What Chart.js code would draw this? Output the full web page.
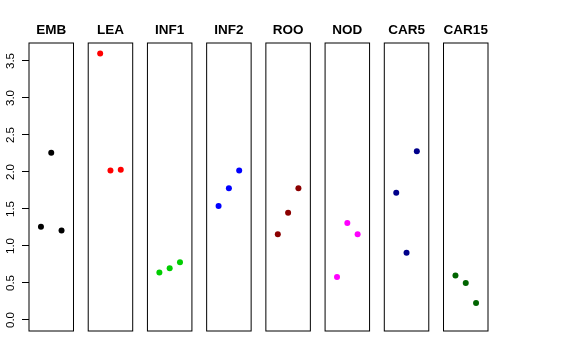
<!DOCTYPE html>
<html>
<head>
<meta charset="utf-8">
<script src="https://cdn.jsdelivr.net/npm/chart.js@4/dist/chart.umd.min.js"></script>
<style>
  body { margin: 0; background: #fff; }
  #wrap { width: 576px; height: 360px; }
</style>
</head>
<body>
<div id="wrap"><canvas id="stripChart" width="576" height="360"></canvas></div>
<script>
// panel names and colours
const panels = ['EMB', 'LEA', 'INF1', 'INF2', 'ROO', 'NOD', 'CAR5', 'CAR15'];
const colors = ['#000000', '#FF0000', '#00CD00', '#0000FF', '#8B0000', '#FF00FF', '#00008B', '#006400'];

// three replicate values per panel
const emb   = [1.26, 2.26, 1.21];
const lea   = [3.60, 2.02, 2.03];
const inf1  = [0.64, 0.70, 0.78];
const inf2  = [1.54, 1.78, 2.02];
const roo   = [1.16, 1.45, 1.78];
const nod   = [0.58, 1.31, 1.16];
const car5  = [1.72, 0.91, 2.28];
const car15 = [0.60, 0.50, 0.23];
const values = [emb, lea, inf1, inf2, roo, nod, car5, car15];

const pitch = 5.75;   // x units between panels
const pad = 0.16;     // each panel spans 0..4 plus padding

const datasets = values.map((vals, i) => ({
  label: panels[i],
  data: vals.map((v, k) => ({ x: i * pitch + k + 1, y: v })),
  backgroundColor: colors[i],
  borderWidth: 0,
  pointRadius: 3
}));

const panelPlugin = {
  id: 'panels',
  afterDraw(chart) {
    const { ctx, chartArea, scales } = chart;
    const x = scales.x, y = scales.y;
    ctx.save();
    ctx.strokeStyle = '#000';
    ctx.lineWidth = 1;
    ctx.fillStyle = '#000';
    ctx.font = 'bold 13.5px "Liberation Sans", Arial, sans-serif';
    ctx.textAlign = 'center';
    ctx.textBaseline = 'alphabetic';
    panels.forEach((name, i) => {
      const l = x.getPixelForValue(i * pitch - pad);
      const r = x.getPixelForValue(i * pitch + 4 + pad);
      ctx.strokeRect(l, chartArea.top, r - l, chartArea.bottom - chartArea.top);
      ctx.fillText(name, (l + r) / 2, 34);
    });
    // rotated y tick labels
    ctx.font = '11.5px "Liberation Sans", Arial, sans-serif';
    ctx.textBaseline = 'middle';
    y.ticks.forEach(t => {
      const py = y.getPixelForValue(t.value);
      ctx.save();
      ctx.translate(10.5, py);
      ctx.rotate(-Math.PI / 2);
      ctx.fillText(t.value.toFixed(1), 0, 0);
      ctx.restore();
    });
    ctx.restore();
  }
};

new Chart(document.getElementById('stripChart'), {
  type: 'scatter',
  data: { datasets },
  options: {
    responsive: false,
    animation: false,
    layout: { padding: { top: 43, bottom: 29, right: 88, left: 0 } },
    plugins: { legend: { display: false }, tooltip: { enabled: false } },
    scales: {
      x: {
        type: 'linear',
        display: false,
        min: -pad,
        max: 7 * pitch + 4 + pad
      },
      y: {
        min: -0.149,
        max: 3.743,
        afterFit: s => { s.width = 29; },
        border: { display: false },
        grid: { drawOnChartArea: false, drawTicks: true, tickLength: 7, color: '#000' },
        ticks: { stepSize: 0.5, includeBounds: false, color: 'rgba(0,0,0,0)', font: { size: 10 } }
      }
    }
  },
  plugins: [panelPlugin]
});
</script>
</body>
</html>
